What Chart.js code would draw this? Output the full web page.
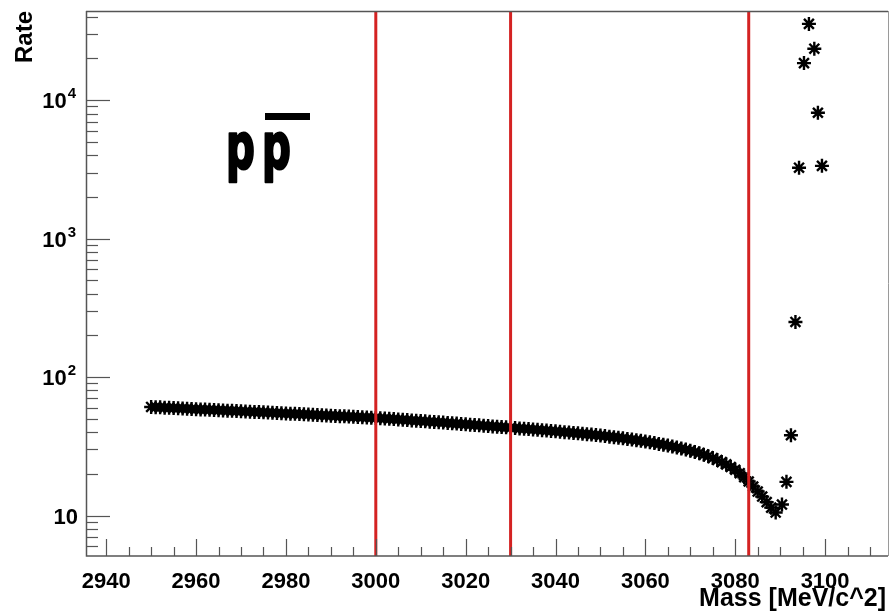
<!DOCTYPE html>
<html>
<head>
<meta charset="utf-8">
<script src="https://cdn.jsdelivr.net/npm/chart.js@4.4.1/dist/chart.umd.min.js"></script>
<style>
  html, body { margin: 0; padding: 0; background: #fff; }
  canvas { display: block; }
</style>
</head>
<body>
<canvas id="rateChart" width="890" height="613"></canvas>
<script>
// scan points: mass [MeV/c^2] and rate
const massValues = [
  2950, 2951, 2952, 2953, 2954, 2955, 2956, 2957, 2958, 2959,
  2960, 2961, 2962, 2963, 2964, 2965, 2966, 2967, 2968, 2969,
  2970, 2971, 2972, 2973, 2974, 2975, 2976, 2977, 2978, 2979,
  2980, 2981, 2982, 2983, 2984, 2985, 2986, 2987, 2988, 2989,
  2990, 2991, 2992, 2993, 2994, 2995, 2996, 2997, 2998, 2999,
  3000, 3001, 3002, 3003, 3004, 3005, 3006, 3007, 3008, 3009,
  3010, 3011, 3012, 3013, 3014, 3015, 3016, 3017, 3018, 3019,
  3020, 3021, 3022, 3023, 3024, 3025, 3026, 3027, 3028, 3029,
  3030, 3031, 3032, 3033, 3034, 3035, 3036, 3037, 3038, 3039,
  3040, 3041, 3042, 3043, 3044, 3045, 3046, 3047, 3048, 3049,
  3050, 3051, 3052, 3053, 3054, 3055, 3056, 3057, 3058, 3059,
  3060, 3061, 3062, 3063, 3064, 3065, 3066, 3067, 3068, 3069,
  3070, 3071, 3072, 3073, 3074, 3075, 3076, 3077, 3078, 3079,
  3080, 3081, 3082, 3083, 3084, 3085, 3086, 3087, 3088, 3089,
  3090.4, 3091.4, 3092.4, 3093.4, 3094.2, 3095.3, 3096.4, 3097.6, 3098.4, 3099.3
];
const rateValues = [
  60.8, 60.6, 60.4, 60.1, 59.9, 59.7, 59.5, 59.3, 59.1, 58.8,
  58.6, 58.4, 58.2, 58.0, 57.8, 57.6, 57.4, 57.2, 57.0, 56.8,
  56.6, 56.4, 56.2, 56.0, 55.8, 55.6, 55.4, 55.2, 55.0, 54.8,
  54.6, 54.4, 54.2, 54.0, 53.8, 53.6, 53.4, 53.2, 53.0, 52.8,
  52.6, 52.4, 52.2, 52.0, 51.8, 51.6, 51.4, 51.2, 51.0, 50.9,
  50.7, 50.4, 50.2, 49.9, 49.7, 49.4, 49.2, 48.9, 48.6, 48.4,
  48.1, 47.9, 47.6, 47.4, 47.1, 46.9, 46.6, 46.3, 46.1, 45.8,
  45.6, 45.3, 45.0, 44.8, 44.5, 44.3, 44.0, 43.8, 43.5, 43.3,
  43.0, 42.8, 42.5, 42.3, 42.1, 41.8, 41.6, 41.3, 41.1, 40.8,
  40.6, 40.3, 40.0, 39.8, 39.5, 39.2, 38.9, 38.7, 38.4, 38.1,
  37.8, 37.5, 37.1, 36.8, 36.5, 36.1, 35.7, 35.4, 35.0, 34.6,
  34.2, 33.8, 33.4, 32.9, 32.5, 32.0, 31.5, 31.0, 30.5, 30.0,
  29.4, 28.8, 28.2, 27.5, 26.8, 26.0, 25.2, 24.3, 23.4, 22.4,
  21.4, 20.2, 18.9, 17.6, 16.2, 14.9, 13.7, 12.5, 11.4, 10.5,
  12.0, 17.5, 38, 250, 3250, 18500, 35500, 23500, 8100, 3350
];

// vertical cut positions
const cutMasses = [3000, 3030, 3083];

// axis ranges and ticks
const xMin = 2935.5, xMax = 3114;
const yMin = 5.1, yMax = 44000;
const xMajorTicks = [2940, 2960, 2980, 3000, 3020, 3040, 3060, 3080, 3100];
const xMinorStep = 5;
const yMajorTicks = [10, 100, 1000, 10000];
const yMinorTicks = [6, 7, 8, 9, 20, 30, 40, 50, 60, 70, 80, 90,
  200, 300, 400, 500, 600, 700, 800, 900,
  2000, 3000, 4000, 5000, 6000, 7000, 8000, 9000, 20000, 30000, 40000];

const points = massValues.map((m, i) => ({ x: m, y: rateValues[i] }));

const cutSets = cutMasses.map(c => ({
  type: 'line',
  data: [{ x: c, y: yMin }, { x: c, y: yMax }],
  borderColor: '#d42222',
  borderWidth: 3,
  pointRadius: 0,
  order: 0
}));

const LABEL_FONT = 'bold 22px "Liberation Sans", Arial, sans-serif';

// ROOT-style frame, inward ticks, labels and titles
const rootFrame = {
  id: 'rootFrame',
  afterDraw(chart) {
    const ctx = chart.ctx;
    const a = chart.chartArea;
    const xs = chart.scales.x, ys = chart.scales.y;
    ctx.save();

    // frame
    ctx.lineWidth = 1;
    ctx.strokeStyle = '#9a9a9a';
    ctx.beginPath();
    ctx.moveTo(a.right + 0.5, a.top);
    ctx.lineTo(a.right + 0.5, a.bottom);
    ctx.stroke();
    ctx.strokeStyle = '#555';
    ctx.lineWidth = 1.5;
    ctx.beginPath();
    ctx.moveTo(a.left, a.top + 0.5);
    ctx.lineTo(a.right, a.top + 0.5);
    ctx.stroke();
    ctx.beginPath();
    ctx.moveTo(a.left + 0.5, a.top);
    ctx.lineTo(a.left + 0.5, a.bottom);
    ctx.lineTo(a.right, a.bottom);
    ctx.stroke();

    // x ticks
    ctx.strokeStyle = '#555';
    ctx.lineWidth = 1.2;
    for (let v = xMajorTicks[0]; v <= xMax; v += xMinorStep) {
      const px = Math.round(xs.getPixelForValue(v)) + 0.5;
      const len = xMajorTicks.includes(v) ? 17 : 9;
      ctx.beginPath();
      ctx.moveTo(px, a.bottom);
      ctx.lineTo(px, a.bottom - len);
      ctx.stroke();
    }
    // y ticks
    yMajorTicks.forEach(v => {
      const py = Math.round(ys.getPixelForValue(v)) + 0.5;
      ctx.beginPath();
      ctx.moveTo(a.left, py);
      ctx.lineTo(a.left + 24, py);
      ctx.stroke();
    });
    yMinorTicks.forEach(v => {
      const py = Math.round(ys.getPixelForValue(v)) + 0.5;
      ctx.beginPath();
      ctx.moveTo(a.left, py);
      ctx.lineTo(a.left + 12, py);
      ctx.stroke();
    });

    // x tick labels
    ctx.fillStyle = '#000';
    ctx.font = LABEL_FONT;
    ctx.textAlign = 'center';
    ctx.textBaseline = 'alphabetic';
    xMajorTicks.forEach(v => {
      ctx.fillText(String(v), xs.getPixelForValue(v), 588);
    });

    // y tick labels (10, 10^2, ...)
    yMajorTicks.forEach(v => {
      const py = ys.getPixelForValue(v);
      const exp = Math.round(Math.log10(v));
      ctx.textAlign = 'right';
      if (exp === 1) {
        ctx.font = LABEL_FONT;
        ctx.fillText('10', 78, py + 8);
      } else {
        ctx.font = 'bold 15px "Liberation Sans", Arial, sans-serif';
        ctx.fillText(String(exp), 76, py - 2);
        const w = ctx.measureText(String(exp)).width;
        ctx.font = LABEL_FONT;
        ctx.fillText('10', 76 - w - 1, py + 8);
      }
    });

    // axis titles
    ctx.font = 'bold 25px "Liberation Sans", Arial, sans-serif';
    ctx.textAlign = 'right';
    ctx.fillText('Mass [MeV/c^2]', 886, 606);
    ctx.save();
    ctx.translate(32, 11);
    ctx.rotate(-Math.PI / 2);
    ctx.font = 'bold 24px "Liberation Sans", Arial, sans-serif';
    ctx.textAlign = 'right';
    ctx.fillText('Rate', 0, 0);
    ctx.restore();

    // p pbar label
    ctx.font = 'bold 72px "DejaVu Sans", "Liberation Sans", sans-serif';
    ctx.textAlign = 'left';
    ctx.lineJoin = 'round';
    ctx.strokeStyle = '#000';
    [[226, 'p'], [262, 'p']].forEach(([lx, ch]) => {
      ctx.save();
      ctx.translate(lx, 169);
      ctx.scale(0.56, 0.9);
      ctx.lineWidth = 3;
      ctx.strokeText(ch, 0, 0);
      ctx.fillText(ch, 0, 0);
      ctx.restore();
    });
    ctx.fillRect(265, 113, 45, 7);

    ctx.restore();
  }
};

new Chart(document.getElementById('rateChart').getContext('2d'), {
  type: 'scatter',
  data: {
    datasets: [{
      data: points,
      pointStyle: 'star',
      radius: 7,
      borderWidth: 2.4,
      borderColor: '#000',
      backgroundColor: '#000',
      order: 1
    }, ...cutSets]
  },
  options: {
    responsive: false,
    animation: false,
    layout: { autoPadding: false, padding: { left: 86, top: 11, right: 2, bottom: 57 } },
    plugins: { legend: { display: false }, tooltip: { enabled: false } },
    scales: {
      x: { type: 'linear', min: xMin, max: xMax, display: false },
      y: { type: 'logarithmic', min: yMin, max: yMax, display: false }
    }
  },
  plugins: [rootFrame]
});
</script>
</body>
</html>
